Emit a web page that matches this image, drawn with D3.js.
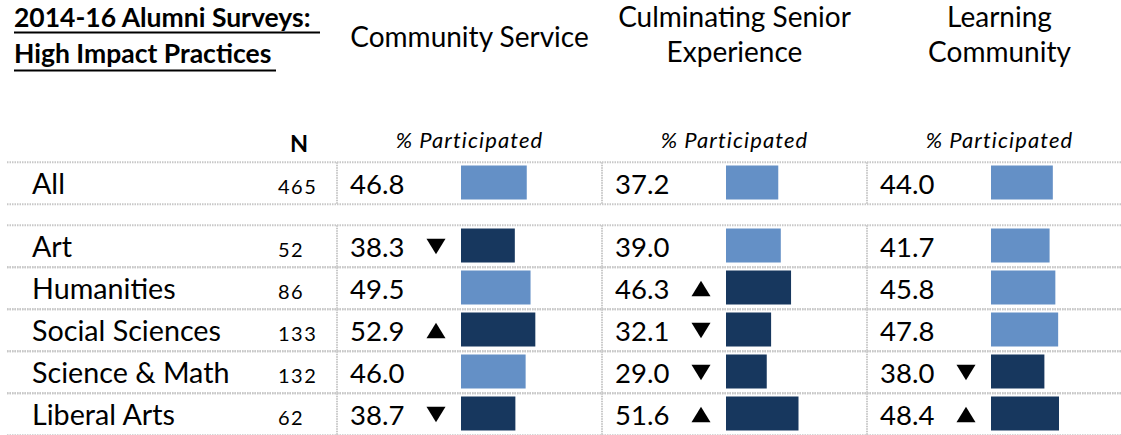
<!DOCTYPE html>
<html><head><meta charset="utf-8">
<script src="https://cdn.jsdelivr.net/npm/d3@7"></script>
<style>
body{margin:0;background:#fff;}
svg{display:block;}
text{font-family:Lato, "Open Sans", sans-serif;fill:#000;}
</style>
</head><body>
<svg id="chart" width="1121" height="435"></svg>
<script>
// ---- data ----
const titleLines = ["2014-16 Alumni Surveys: ", "High Impact Practices"];
const categories = ["All", "Art", "Humanities", "Social Sciences", "Science & Math", "Liberal Arts"];
const nValues = [465, 52, 86, 133, 132, 62];
const practiceHeaders = [["Community Service"], ["Culminating Senior", "Experience"], ["Learning", "Community"]];
const communityService = [46.8, 38.3, 49.5, 52.9, 46.0, 38.7];
const culminatingSenior = [37.2, 39.0, 46.3, 32.1, 29.0, 51.6];
const learningCommunity = [44.0, 41.7, 45.8, 47.8, 38.0, 48.4];
// significance markers: 1 = above (▲), -1 = below (▼), 0 = none
const communityServiceSig = [0, -1, 0, 1, 0, -1];
const culminatingSeniorSig = [0, 0, 1, -1, -1, 1];
const learningCommunitySig = [0, 0, 0, 0, -1, 1];
const subHeader = "% Participated";
const nHeader = "N";

const series = [
  {values: communityService, sig: communityServiceSig},
  {values: culminatingSenior, sig: culminatingSeniorSig},
  {values: learningCommunity, sig: learningCommunitySig}
];

// ---- layout ----
const svg = d3.select("#chart");
const W = 1121;
const lightBlue = "#6490c6", darkBlue = "#17375e", gridCol = "#c8c8c8";

const rowPos = i => i === 0 ? 0 : i + 0.5;               // gap between "All" and others
const yRow = d3.scaleLinear().domain([0, 1]).range([162.3, 204.3]);
const rowH = yRow(1) - yRow(0);
const xCol = d3.scaleBand().domain(d3.range(series.length)).range([337, 1132]);
const xBar = d3.scaleLinear().domain([0, 100]).range([0, 140.5]);

// ---- title ----
const tg = svg.append("g");
const titleBase = [27, 63];
const titleUl = [[14, 320, 32.5], [14, 276, 70.5]];
titleLines.forEach((t, i) => {
  tg.append("text").attr("x", 14).attr("y", titleBase[i])
    .attr("font-size", 26.5).attr("font-weight", 700).style("white-space", "pre")
    .text(t);
  tg.append("line").attr("x1", titleUl[i][0]).attr("x2", titleUl[i][1])
    .attr("y1", titleUl[i][2]).attr("y2", titleUl[i][2])
    .attr("stroke", "#000").attr("stroke-width", 2);
});

// ---- column headers ----
practiceHeaders.forEach((lines, c) => {
  const cx = xCol(c) + xCol.bandwidth() / 2;
  const bases = lines.length === 1 ? [46.7] : [26.7, 62];
  lines.forEach((l, k) => {
    svg.append("text").attr("x", cx).attr("y", bases[k])
      .attr("text-anchor", "middle").attr("font-size", 28).text(l);
  });
  svg.append("text").attr("x", cx).attr("y", 147.5)
    .attr("text-anchor", "middle").attr("font-size", 22).attr("font-style", "italic")
    .attr("letter-spacing", 1.1).text(subHeader);
});
svg.append("text").attr("x", 299).attr("y", 152).attr("text-anchor", "middle")
  .attr("font-size", 23.5).attr("font-weight", 700).text(nHeader);

// ---- grid ----
const grid = svg.append("g").attr("stroke", gridCol).attr("stroke-width", 2)
  .attr("stroke-dasharray", "1.5,1");
categories.forEach((cat, i) => {
  const top = yRow(rowPos(i)), bot = top + rowH;
  [top, bot].forEach(y => grid.append("line").attr("x1", 7).attr("x2", W).attr("y1", y).attr("y2", y));
  series.forEach((s, c) => {
    grid.append("line").attr("x1", xCol(c)).attr("x2", xCol(c)).attr("y1", top).attr("y2", bot);
  });
});

// ---- rows ----
categories.forEach((cat, i) => {
  const top = yRow(rowPos(i));
  const base = top + 32;
  svg.append("text").attr("x", 32).attr("y", base).attr("font-size", 28.7).text(cat);
  svg.append("text").attr("x", 278).attr("y", base).attr("font-size", 20)
    .attr("letter-spacing", 1.5).text(nValues[i]);
  series.forEach((s, c) => {
    const x0 = xCol(c);
    const v = s.values[i], sg = s.sig[i];
    svg.append("text").attr("x", x0 + 13).attr("y", base).attr("font-size", 27.5)
      .text(v.toFixed(1));
    if (sg !== 0) {
      const cx = x0 + 99, w = 19, h = 15.5;
      const yT = base - 18.5, yB = yT + h;
      const p = sg > 0
        ? `M${cx - w/2},${yB}L${cx + w/2},${yB}L${cx},${yT}Z`
        : `M${cx - w/2},${yT}L${cx + w/2},${yT}L${cx},${yB}Z`;
      svg.append("path").attr("d", p).attr("fill", "#000");
    }
    svg.append("rect").attr("x", x0 + 124).attr("y", top + 3.2)
      .attr("width", xBar(v)).attr("height", 34)
      .attr("fill", sg !== 0 ? darkBlue : lightBlue);
  });
});
</script>
</body></html>
